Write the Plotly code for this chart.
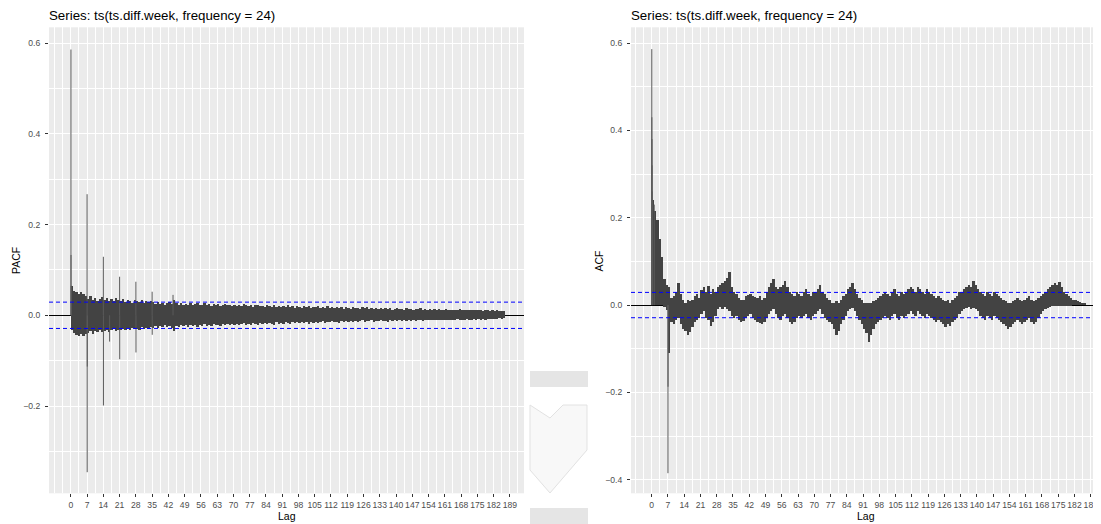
import plotly.graph_objects as go

# The page body has an 8px margin: the figure is drawn from (8, 8) on screen.
OFF = 8
W, H = 1101 - OFF, 524 - OFF
FONT = "Liberation Sans, Arial, sans-serif"

title_text = "Series: ts(ts.diff.week, frequency = 24)"
x_tick_vals = list(range(0, 190, 7))
x_tick_text = [str(v) for v in x_tick_vals]
pacf_y_ticks = [-0.2, 0.0, 0.2, 0.4, 0.6]
acf_y_ticks = [-0.4, -0.2, 0.0, 0.2, 0.4, 0.6]
conf_limit = 0.029

# Individual prominent spikes (lag in days, value)
pacf_spike_lag = [1/24, 2/24, 3/24, 7.0, 7.04, 7.08, 14.0, 14.04, 16.7, 21.0, 21.04, 28.0, 28.04, 35.0, 35.04, 44.0]
pacf_spike_val = [0.586, 0.133, 0.065, 0.267, -0.346, -0.113, 0.129, -0.199, -0.058, 0.085, -0.097, 0.074, -0.082, 0.052, -0.043, 0.045]

# Daily envelope of the dense PACF band (max positive / min negative per day)
pacf_hi = [.065,.052,.050,.046,.050,.047,.042,
           .036,.042,.033,.037,.031,.035,.039,
           .034,.037,.030,.035,.031,.037,.033,
           .031,.035,.029,.033,.031,.027,.032,
           .031,.029,.033,.026,.031,.028,.030,
           .029,.025,.028,.024,.027,.023,.026,
           .028,.025,.033,.026,.023,.026,.022,
           .025,.022,.027,.021,.024,.026,.022,
           .023,.026,.021,.024,.020,.025,.022,
           .024,.020,.023,.025,.021,.022,.019,
           .023,.020,.022,.019,.024,.021,.019,
           .022,.018,.021,.023,.019,.020,.018,
           .021,.019,.017,.022,.018,.020,.017,
           .020,.018,.021,.017,.019,.016,.020,
           .018,.016,.019,.017,.020,.016,.018,
           .017,.019,.015,.018,.016,.019,.015,
           .017,.016,.018,.015,.017,.014,.018,
           .016,.014,.017,.015,.016,.013,.017,
           .015,.017,.014,.016,.013,.015,.014,
           .016,.013,.015,.014,.016,.012,.014,
           .015,.013,.014,.012,.015,.013,.014,
           .012,.014,.013,.015,.012,.013,.011,
           .013,.012,.014,.011,.013,.012,.011,
           .013,.011,.012,.010,.012,.011,.013,
           .011,.010,.012,.011,.010,.012,.010,
           .011,.010,.009,.011,.010,.009,.010,
           .009,.010,.008,.009,.008]
pacf_lo = [-.032,-.040,-.044,-.047,-.043,-.046,-.041,
           -.040,-.036,-.041,-.035,-.038,-.033,-.037,
           -.036,-.033,-.038,-.034,-.031,-.036,-.032,
           -.033,-.030,-.034,-.029,-.032,-.028,-.031,
           -.030,-.032,-.027,-.031,-.028,-.030,-.026,
           -.028,-.025,-.029,-.024,-.027,-.023,-.026,
           -.025,-.029,-.036,-.024,-.027,-.022,-.025,
           -.023,-.026,-.021,-.025,-.022,-.027,-.021,
           -.024,-.020,-.025,-.022,-.024,-.019,-.023,
           -.021,-.024,-.020,-.023,-.019,-.022,-.020,
           -.022,-.019,-.023,-.020,-.018,-.022,-.019,
           -.021,-.018,-.020,-.022,-.017,-.020,-.018,
           -.020,-.017,-.019,-.021,-.016,-.019,-.017,
           -.019,-.016,-.018,-.020,-.016,-.018,-.015,
           -.018,-.016,-.017,-.015,-.019,-.016,-.017,
           -.015,-.017,-.016,-.014,-.018,-.015,-.016,
           -.014,-.016,-.015,-.017,-.014,-.015,-.013,
           -.016,-.014,-.015,-.013,-.016,-.014,-.012,
           -.015,-.013,-.014,-.012,-.015,-.013,-.014,
           -.012,-.014,-.013,-.015,-.012,-.013,-.011,
           -.014,-.012,-.013,-.011,-.013,-.012,-.014,
           -.011,-.013,-.012,-.011,-.013,-.010,-.012,
           -.011,-.012,-.010,-.012,-.011,-.010,-.012,
           -.010,-.011,-.012,-.010,-.011,-.009,-.011,
           -.010,-.011,-.009,-.010,-.011,-.009,-.010,
           -.009,-.010,-.008,-.010,-.009,-.008,-.009,
           -.008,-.009,-.007,-.008,-.007]

acf_spike_lag = [1/24, 2/24, 3/24, 4/24, 5/24, 1.1, 7.0, 7.04]
acf_spike_val = [0.586, 0.43, 0.38, 0.32, 0.26, 0.23, -0.385, -0.187]

# Daily envelope of the dense ACF band (max positive / min negative per day)
acf_hi = [.240,.215,.195,.150,.110,.060,.045,
          .040,.015,.020,.030,.050,.025,.010,
          .005,.010,.008,.012,.020,.025,.015,
          .033,.040,.030,.042,.025,.035,.030,
          .040,.045,.050,.055,.062,.074,.040,
          .030,.025,.015,.010,.012,.020,.022,
          .025,.020,.018,.015,.020,.012,.015,
          .030,.040,.050,.060,.040,.035,.040,
          .045,.055,.040,.030,.025,.020,.030,
          .025,.020,.030,.035,.025,.020,.030,
          .030,.035,.045,.030,.025,.015,.010,
          .005,.005,.008,.005,.010,.020,.025,
          .035,.040,.050,.035,.025,.015,.010,
          .005,.005,.003,.005,.008,.010,.015,
          .020,.025,.030,.025,.020,.030,.035,
          .025,.020,.030,.025,.030,.035,.040,
          .035,.030,.040,.035,.030,.025,.035,
          .030,.025,.020,.015,.020,.015,.010,
          .008,.010,.005,.010,.015,.020,.030,
          .030,.035,.040,.045,.040,.055,.045,
          .035,.030,.025,.020,.030,.025,.020,
          .030,.025,.020,.015,.010,.008,.005,
          .005,.008,.010,.015,.010,.008,.010,
          .015,.020,.010,.008,.010,.015,.020,
          .025,.030,.035,.040,.045,.050,.045,
          .052,.040,.030,.025,.020,.015,.012,
          .010,.008,.006,.004,.002]
acf_lo = [0,0,0,0,0,-.005,-.012,
          -.110,-.040,-.045,-.035,-.030,-.045,-.055,
          -.060,-.070,-.062,-.050,-.040,-.035,-.030,
          -.020,-.015,-.030,-.035,-.048,-.040,-.025,
          -.010,-.005,-.010,-.005,-.010,-.015,-.025,
          -.030,-.025,-.035,-.040,-.038,-.030,-.025,
          -.020,-.030,-.035,-.040,-.042,-.045,-.040,
          -.030,-.020,-.015,-.010,-.020,-.030,-.035,
          -.025,-.020,-.030,-.040,-.045,-.040,-.030,
          -.025,-.030,-.025,-.020,-.030,-.035,-.025,
          -.020,-.015,-.010,-.020,-.030,-.035,-.040,
          -.045,-.055,-.070,-.060,-.045,-.035,-.025,
          -.015,-.010,-.008,-.015,-.025,-.035,-.045,
          -.055,-.065,-.085,-.070,-.055,-.045,-.040,
          -.035,-.030,-.025,-.030,-.035,-.025,-.020,
          -.030,-.035,-.025,-.030,-.025,-.020,-.015,
          -.020,-.025,-.015,-.020,-.025,-.030,-.020,
          -.025,-.030,-.035,-.040,-.035,-.040,-.045,
          -.050,-.045,-.048,-.040,-.035,-.030,-.020,
          -.015,-.010,-.008,-.005,-.010,-.008,-.010,
          -.015,-.025,-.030,-.035,-.025,-.030,-.035,
          -.025,-.030,-.035,-.040,-.045,-.048,-.055,
          -.050,-.045,-.040,-.035,-.040,-.045,-.040,
          -.035,-.030,-.040,-.045,-.040,-.030,-.020,
          -.015,-.010,-.008,-.005,-.003,-.002,-.002,
          -.002,-.003,-.003,-.002,-.002,-.001,0,
          0,0,0,0,0]

BAND_COLOR = "#434343"
SPIKE_COLOR = "#5a5a5a"


def px_x(p):
    """screen pixel x -> paper fraction"""
    return (p - OFF) / W


def px_y(p):
    """screen pixel y -> paper fraction"""
    return 1 - (p - OFF) / H


def spike_xy(lags, vals):
    xs, ys = [], []
    for l, v in zip(lags, vals):
        xs += [l, l, None]
        ys += [0, v, None]
    return xs, ys


fig = go.Figure()

panels = [
    ("x", "y", pacf_hi, pacf_lo, pacf_spike_lag, pacf_spike_val),
    ("x2", "y2", acf_hi, acf_lo, acf_spike_lag, acf_spike_val),
]
for xa, ya, hi, lo, sl, sv in panels:
    days_hi = [d + 0.5 for d in range(len(hi))]
    days_lo = [d + 0.5 for d in range(len(lo))]
    fig.add_trace(go.Bar(x=days_hi, y=hi, width=1.0, marker=dict(color=BAND_COLOR, line=dict(width=0)),
                         xaxis=xa, yaxis=ya, showlegend=False, hoverinfo="skip"))
    fig.add_trace(go.Bar(x=days_lo, y=lo, width=1.0, marker=dict(color=BAND_COLOR, line=dict(width=0)),
                         xaxis=xa, yaxis=ya, showlegend=False, hoverinfo="skip"))
    sx, sy = spike_xy(sl, sv)
    fig.add_trace(go.Scatter(x=sx, y=sy, mode="lines", line=dict(color=SPIKE_COLOR, width=1.0),
                             xaxis=xa, yaxis=ya, showlegend=False, hoverinfo="skip"))

y_dom = [px_y(493.3), px_y(27.3)]

common_x = dict(
    tickmode="array", tickvals=x_tick_vals, ticktext=x_tick_text, tickangle=0,
    ticks="outside", ticklen=3, tickwidth=1, tickcolor="#333333",
    tickfont=dict(family=FONT, size=8.6, color="#4D4D4D"),
    ticklabeloverflow="allow",
    showgrid=True, gridcolor="#FFFFFF", gridwidth=1.07,
    minor=dict(dtick=3.5, tick0=0, showgrid=True, gridcolor="#FFFFFF", gridwidth=0.5, ticklen=0),
    zeroline=False, showline=False, fixedrange=True,
)


def fmt(v):
    s = f"{abs(v):.1f}"
    return ("\u2212" + s) if v < 0 else s


common_y = dict(
    tickmode="array", ticks="outside", ticklen=3, tickwidth=1, tickcolor="#333333",
    tickfont=dict(family=FONT, size=8.6, color="#4D4D4D"),
    ticklabelstandoff=3,
    showgrid=True, gridcolor="#FFFFFF", gridwidth=1.07,
    minor=dict(dtick=0.1, tick0=0, showgrid=True, gridcolor="#FFFFFF", gridwidth=0.5, ticklen=0),
    zeroline=True, zerolinecolor="#000000", zerolinewidth=1,
    showline=False, fixedrange=True, domain=y_dom,
)

fig.update_layout(
    width=W, height=H, margin=dict(l=0, r=0, t=0, b=0),
    paper_bgcolor="#FFFFFF", plot_bgcolor="#EBEBEB",
    barmode="overlay", bargap=0,
    xaxis=dict(common_x, domain=[px_x(49), px_x(524)], range=[-9.4, 195.1], anchor="y"),
    yaxis=dict(common_y, range=[-0.3925, 0.635], tickvals=pacf_y_ticks,
               ticktext=[fmt(v) for v in pacf_y_ticks], anchor="x"),
    xaxis2=dict(common_x, domain=[px_x(631), 1.0], range=[-8.9, 193.4], anchor="y2"),
    yaxis2=dict(common_y, range=[-0.431, 0.636], tickvals=acf_y_ticks,
                ticktext=[fmt(v) for v in acf_y_ticks], anchor="x2"),
    font=dict(family=FONT),
)

shapes = []
for xd, ya in [("x domain", "y"), ("x2 domain", "y2")]:
    for c in (conf_limit, -conf_limit):
        shapes.append(dict(type="line", xref=xd, yref=ya, x0=0, x1=1, y0=c, y1=c,
                           line=dict(color="#0000FF", width=1, dash="4px,3px"), layer="above"))

# stray image fragments between the two panels
shapes.append(dict(type="rect", xref="paper", yref="paper", x0=px_x(530), x1=px_x(588),
                   y0=px_y(387), y1=px_y(371), fillcolor="#E5E5E5", line=dict(width=0)))
shapes.append(dict(type="rect", xref="paper", yref="paper", x0=px_x(530), x1=px_x(588),
                   y0=px_y(524), y1=px_y(508), fillcolor="#E5E5E5", line=dict(width=0)))
heart = [(530, 405), (550, 418), (563, 405), (587, 405), (587, 450), (550, 493), (530, 470)]
path = "M " + " L ".join(f"{px_x(a):.5f},{px_y(b):.5f}" for a, b in heart) + " Z"
shapes.append(dict(type="path", xref="paper", yref="paper", path=path,
                   fillcolor="#F8F8F8", line=dict(color="#E2E2E2", width=1)))
fig.update_layout(shapes=shapes)

ann = []
for x0 in (49, 631):
    ann.append(dict(text=title_text, x=px_x(x0 - 2), y=px_y(15), xref="paper", yref="paper",
                    xanchor="left", yanchor="middle", showarrow=False,
                    font=dict(family=FONT, size=13.3, color="#000000")))
ann.append(dict(text="PACF", x=px_x(16), y=px_y(261), xref="paper", yref="paper", textangle=-90,
                xanchor="center", yanchor="middle", showarrow=False,
                font=dict(family=FONT, size=10.5, color="#000000")))
ann.append(dict(text="ACF", x=px_x(598.5), y=px_y(261), xref="paper", yref="paper", textangle=-90,
                xanchor="center", yanchor="middle", showarrow=False,
                font=dict(family=FONT, size=10.5, color="#000000")))
for xc in (287, 866):
    ann.append(dict(text="Lag", x=px_x(xc), y=px_y(515.5), xref="paper", yref="paper",
                    xanchor="center", yanchor="middle", showarrow=False,
                    font=dict(family=FONT, size=10.5, color="#000000")))
fig.update_layout(annotations=ann)

fig.write_html("out.html")
